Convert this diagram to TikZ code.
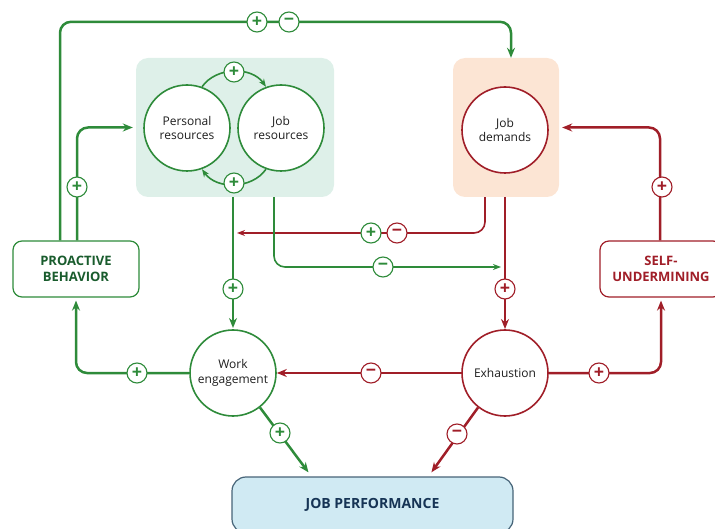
\documentclass[tikz,border=0pt]{standalone}
\usepackage{fontspec}
\setmainfont{Open Sans}
\usetikzlibrary{arrows.meta}
\definecolor{posgreen}{RGB}{46,139,58}
\definecolor{negred}{RGB}{160,30,40}
\definecolor{darkgreen}{RGB}{25,92,45}
\definecolor{resfill}{RGB}{222,240,233}
\definecolor{demfill}{RGB}{252,229,212}
\definecolor{perffill}{RGB}{208,234,243}
\definecolor{perfdraw}{RGB}{70,100,120}
\definecolor{perftext}{RGB}{22,52,85}
\definecolor{circtext}{RGB}{30,30,30}
\tikzset{
    groupbox/.style={
        rounded corners=12pt,
        minimum width=198pt,
        minimum height=139pt
    },
    poscircle/.style={
        circle,
        draw=posgreen,
        line width=1.6pt,
        fill=white,
        minimum size=86pt,
        inner sep=1pt,
        align=center,
        text=circtext,
        font=\fontsize{12}{14.5}\selectfont
    },
    negcircle/.style={
        poscircle,
        draw=negred
    },
    posbox/.style={
        draw=posgreen,
        rounded corners=9pt,
        line width=1.2pt,
        fill=white,
        minimum width=126pt,
        minimum height=56pt,
        align=center,
        text=darkgreen,
        font=\bfseries\fontsize{13}{15.5}\selectfont
    },
    negbox/.style={
        posbox,
        draw=negred,
        text=negred,
        minimum width=122pt
    },
    sign/.style={
        circle,
        draw,
        fill=white,
        line width=1.1pt,
        minimum size=20pt,
        inner sep=0pt,
        font=\bfseries\fontsize{18}{18}\selectfont
    },
    possign/.style={sign, draw=posgreen, text=posgreen},
    negsign/.style={sign, draw=negred, text=negred},
    posline/.style={
        -{Stealth[length=10pt,width=8pt]},
        line width=2.5pt,
        posgreen,
        rounded corners=11pt
    },
    negline/.style={
        posline,
        negred
    },
    thinpos/.style={
        -{Stealth[length=8pt,width=6pt]},
        line width=1.6pt,
        posgreen,
        rounded corners=11pt
    },
    thinneg/.style={
        thinpos,
        negred
    }
}

\begin{document}
\begin{tikzpicture}[x=1pt, y=-1pt]

    \useasboundingbox (0,0) rectangle (715,529);

    % shaded groups
    \node[groupbox, fill=resfill] (resbox) at (235,127.5) {};
    \node[groupbox, fill=demfill, minimum width=106pt] (dembox) at (506,127.5) {};

    % outcome boxes
    \node[posbox] (proactive) at (76,269) {PROACTIVE\\BEHAVIOR};
    \node[negbox] (selfund) at (661,269) {SELF-\\UNDERMINING};
    \node[draw=perfdraw, fill=perffill, rounded corners=14pt, line width=1.2pt,
          minimum width=281pt, minimum height=56pt,
          text=perftext, font=\bfseries\fontsize{14}{16}\selectfont]
          (perf) at (372.5,505) {JOB PERFORMANCE};

    % free ends
    \coordinate (resin) at (237,233);
    \coordinate (exhin) at (501,267);

    % lines
    \draw[posline] ([xshift=-16pt]proactive.north) |- ([xshift=5pt,yshift=36pt]dembox.north)
        -- ([xshift=5pt]dembox.north);
    \draw[posline, shorten >=3pt] ([xshift=1pt]proactive.north) |- (resbox.west);
    \draw[posline] (233,197) -- (233,328);
    \draw[thinneg] ([xshift=-21pt]dembox.south) |- (resin);
    \draw[thinpos] ([xshift=39pt]resbox.south) |- (exhin);
    \draw[negline] (505,197) -- (505,329);
    \draw[negline, shorten >=3pt] ([xshift=-1pt]selfund.north) |- (dembox.east);

    % circles
    \node[poscircle] (personal) at (187,128) {Personal\\resources};
    \node[poscircle] (jobres) at (281,128) {Job\\resources};
    \node[negcircle] (demands) at (505,130) {Job\\demands};
    \node[poscircle] (work) at (233,373) {Work\\engagement};
    \node[negcircle] (exhaust) at (505,373) {Exhaustion};

    \draw[thinpos] (personal.70) to[bend left=55] (jobres.110);
    \draw[thinpos] (jobres.-110) to[bend left=55] (personal.-70);

    \draw[negline] (exhaust.west) -- (work.east);
    \draw[posline, shorten >=3pt] (work.west) -| (proactive.south);
    \draw[negline, shorten >=3pt] (exhaust.east) -| (selfund.south);
    \draw[posline, shorten >=5pt] (work.-52) -- ([xshift=-61pt]perf.north);
    \draw[negline, shorten >=5pt] (exhaust.-128) -- ([xshift=56pt]perf.north);

    % signs
    \node[possign] (s1) at (257,22) {+};
    \node[possign] (s2) at (289,22) {\textminus};
    \node[possign] (s3) at (234,72) {+};
    \node[possign] (s4) at (234,183) {+};
    \node[possign] (s5) at (77,187) {+};
    \node[negsign] (s6) at (662,187) {+};
    \node[possign] (s7) at (371,233) {+};
    \node[negsign] (s8) at (397,233) {\textminus};
    \node[possign] (s9) at (383,267) {\textminus};
    \node[possign] (s10) at (233,289) {+};
    \node[negsign] (s11) at (505,289) {+};
    \node[possign] (s12) at (137,373) {+};
    \node[negsign] (s13) at (371,373) {\textminus};
    \node[negsign] (s14) at (599,373) {+};
    \node[possign] (s15) at (280,433) {+};
    \node[negsign] (s16) at (457,434) {\textminus};

\end{tikzpicture}
\end{document}
